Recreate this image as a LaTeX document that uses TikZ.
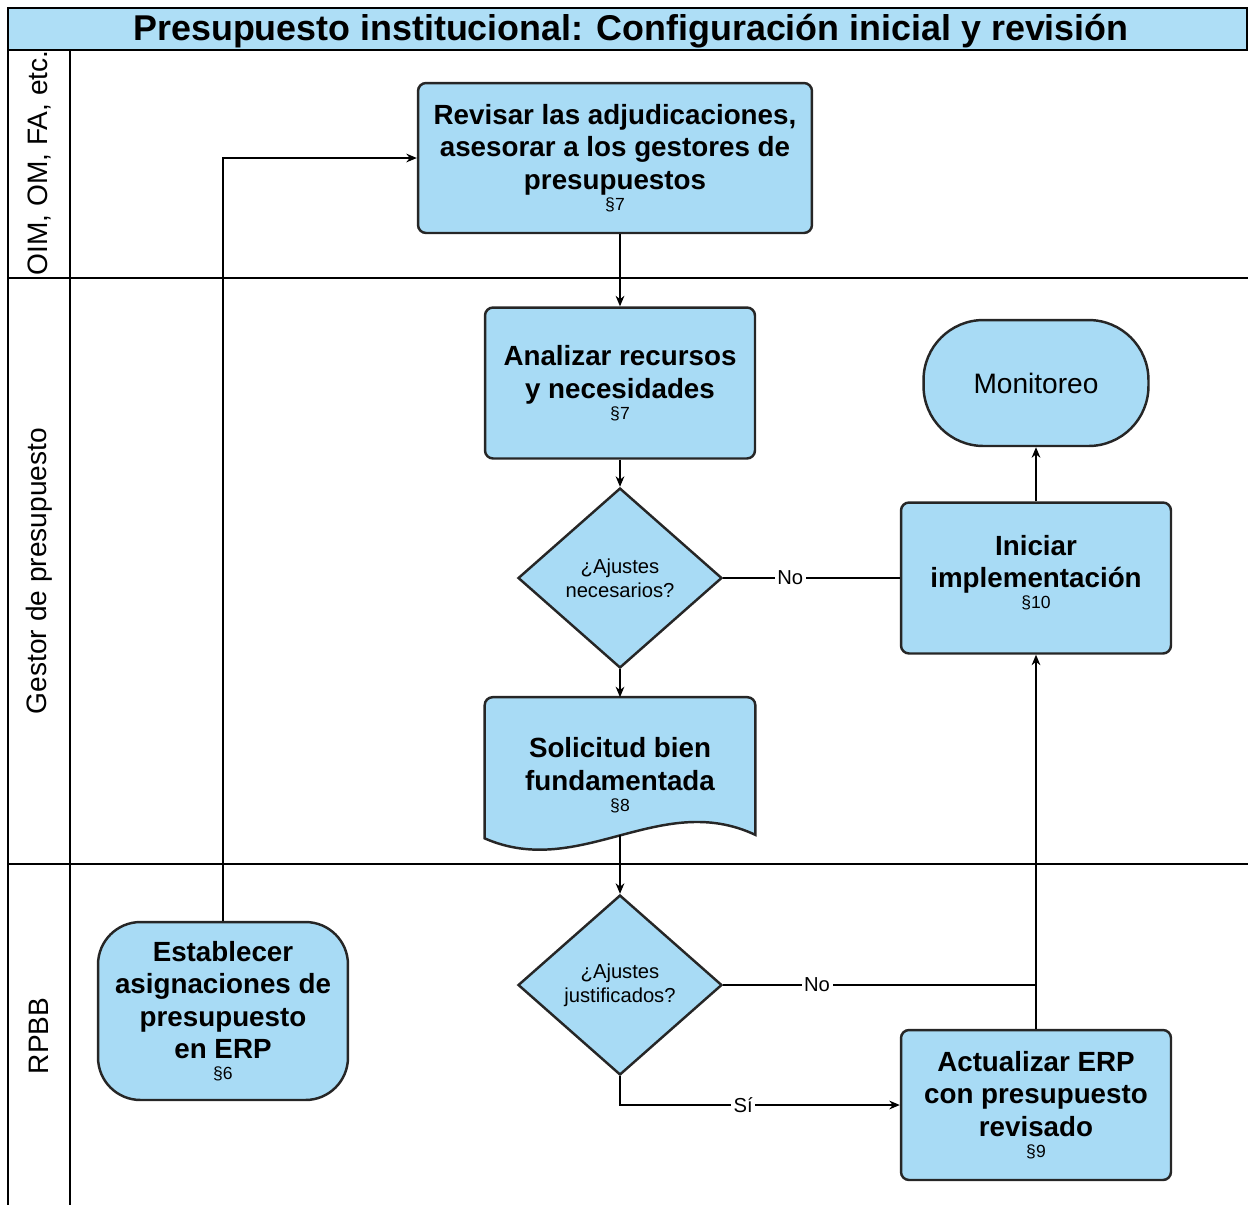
\documentclass[tikz,border=0pt]{standalone}
\usepackage{fontspec}
\setmainfont{Liberation Sans}
\usetikzlibrary{arrows.meta,shapes.geometric}
\definecolor{boxblue}{RGB}{168,219,245}
\definecolor{titleblue}{RGB}{174,222,246}
\newcommand{\parref}[1]{\\[-6.5pt]{\fontsize{10}{11}\selectfont\mdseries\S#1}}

\begin{document}
\begin{tikzpicture}[x=0.02cm,y=-0.02cm,
  box/.style={draw=black!85, line width=1.4pt, fill=boxblue, rounded corners=0.16cm,
    align=center, inner sep=2pt, font=\fontsize{15.8}{18.5}\selectfont\bfseries},
  decision/.style={diamond, draw=black!85, line width=1.4pt, fill=boxblue, aspect=1.133,
    inner sep=0pt, minimum width=4.08cm, minimum height=3.6cm, align=center,
    font=\fontsize{11.5}{13.5}\selectfont},
  link/.style={line width=0.7pt, -{Stealth[length=6pt,width=5pt]}},
  plain/.style={line width=0.7pt},
  lbl/.style={fill=white, inner sep=1.5pt, font=\fontsize{11.5}{13}\selectfont},
  lane/.style={rotate=90, font=\fontsize{16}{19}\selectfont}]
  % picture in pixel units: x right, y down, 1248 x 1205
  \useasboundingbox (0,0) rectangle (1248,1205);
  % title band and swimlanes
  \draw[line width=1pt, fill=titleblue] (8,8) rectangle (1247,50);
  \node[font=\fontsize{20.4}{23}\selectfont\bfseries] (title) at (631,31)
     {Presupuesto institucional: Configuración inicial y revisión};
  \draw[line width=0.8pt] (8,50) -- (8,1205);
  \draw[line width=0.8pt] (70,50) -- (70,1205);
  \draw[line width=0.8pt] (8,278) -- (1248,278);
  \draw[line width=0.8pt] (8,864) -- (1248,864);
  \node[lane] (laneA) at (39,163) {OIM, OM, FA, etc.};
  \node[lane] (laneB) at (39,571) {Gestor de presupuesto};
  \node[lane] (laneC) at (39,1036) {RPBB};
  % process steps
  \node[box, minimum width=7.88cm, minimum height=3.0cm] (rev) at (615,158)
     {Revisar las adjudicaciones,\\ asesorar a los gestores de\\ presupuestos\parref{7}};
  \node[box, minimum width=5.4cm, minimum height=3.02cm] (ana) at (620,383)
     {Analizar recursos\\ y necesidades\parref{7}};
  \node[decision] (dnec) at (620,578) {¿Ajustes\\ necesarios?};
  % document shape with wavy bottom
  \node[minimum width=5.4cm, minimum height=2.74cm, inner sep=0pt] (sol) at (620,766) {};
  \draw[line width=1.4pt, draw=black!85, fill=boxblue]
     (sol.south east) -- ([yshift=-0.16cm]sol.north east)
     arc[start angle=0, end angle=90, radius=0.16cm]
     -- ([xshift=0.16cm]sol.north west)
     arc[start angle=90, end angle=180, radius=0.16cm]
     -- ([yshift=-2]sol.south west)
     .. controls (580,880) and (660,790) .. (sol.south east) -- cycle;
  \node[align=center, font=\fontsize{15.8}{18.5}\selectfont\bfseries] (soltxt) at (620,775)
     {Solicitud bien\\ fundamentada\parref{8}};
  \node[decision] (djus) at (620,985) {¿Ajustes\\ justificados?};
  \node[box, rounded corners=0.85cm, minimum width=5.0cm, minimum height=3.56cm] (est) at (223,1011)
     {Establecer\\ asignaciones de\\ presupuesto\\ en ERP\parref{6}};
  \node[box, minimum width=5.4cm, minimum height=3.0cm] (act) at (1036,1105)
     {Actualizar ERP\\ con presupuesto\\ revisado\parref{9}};
  \node[box, minimum width=5.4cm, minimum height=3.02cm, text depth=0.25cm] (ini) at (1036,578)
     {Iniciar\\ implementación\parref{10}};
  \node[box, rounded corners=1.2cm, minimum width=4.5cm, minimum height=2.52cm,
     font=\fontsize{16}{19}\selectfont] (mon) at (1036,383) {Monitoreo};
  % connectors
  \draw[link] (est.north) |- (rev.west);
  \draw[link] (rev.south -| ana.north) -- (ana.north);
  \draw[link] (ana.south) -- (dnec.north);
  \draw[link] (dnec.south) -- (sol.north);
  \draw[plain] (dnec.east) -- node[lbl, pos=0.38] {No} (ini.west);
  \draw[link] (sol.south) -- (djus.north);
  \draw[plain] (djus.east) -- node[lbl, pos=0.3] {No} (djus.east -| act.north);
  \draw[link] (act.north) -- (ini.south);
  \draw[link] (djus.south) |- node[lbl, pos=0.72] {Sí} (act.west);
  \draw[link] (ini.north) -- (mon.south);
\end{tikzpicture}
\end{document}
